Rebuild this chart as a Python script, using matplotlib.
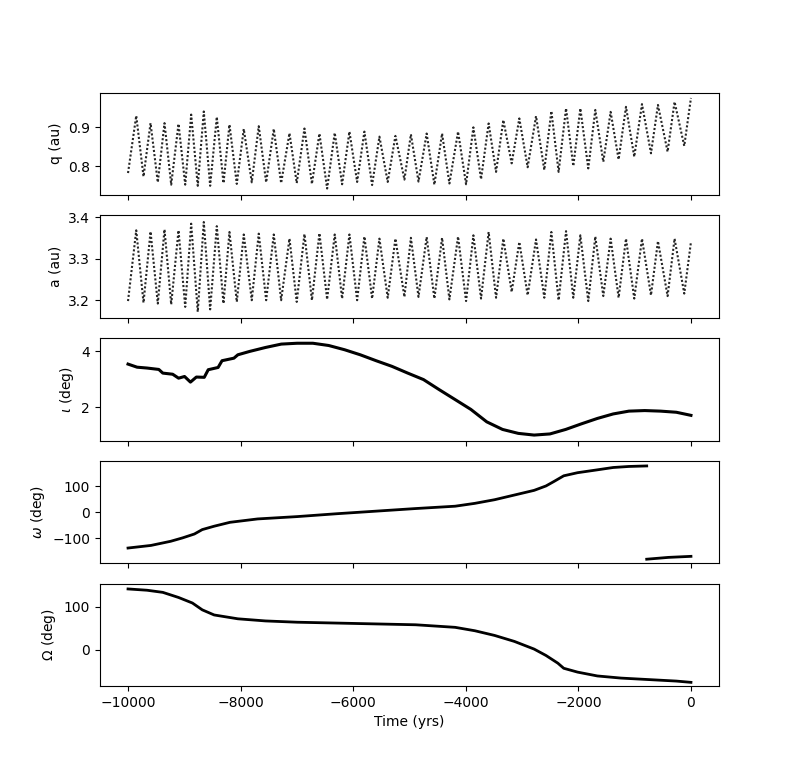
import matplotlib
matplotlib.use("Agg")
import matplotlib.pyplot as plt
import numpy as np

# ---- q and a: times of the start, alternating peaks / troughs, and end ----
t_ext = [-10000,
         -9854, -9725, -9600, -9471, -9352, -9233, -9103, -8984, -8878, -8761,
         -8654, -8541, -8423, -8304, -8198, -8068, -7944, -7802, -7678, -7546,
         -7411, -7280, -7132, -7003, -6866, -6733, -6600, -6463, -6328, -6197,
         -6067, -5930, -5801, -5664, -5534, -5387, -5250, -5090, -4975, -4840,
         -4695, -4558, -4421, -4291, -4137, -3995, -3865, -3729, -3594, -3462,
         -3333, -3185, -3049, -2901, -2752, -2605, -2480, -2351, -2219, -2090,
         -1965, -1824, -1699, -1557, -1427, -1285, -1154, -1007, -870, -710,
         -586, -415, -291, -119,
         0]

q_ext = [0.782,
         0.930, 0.773, 0.911, 0.758, 0.911, 0.752, 0.909, 0.752, 0.933, 0.749,
         0.941, 0.749, 0.927, 0.756, 0.907, 0.754, 0.896, 0.758, 0.903, 0.758,
         0.896, 0.756, 0.885, 0.756, 0.897, 0.754, 0.884, 0.742, 0.886, 0.753,
         0.889, 0.759, 0.889, 0.751, 0.876, 0.759, 0.878, 0.765, 0.882, 0.760,
         0.884, 0.752, 0.884, 0.755, 0.889, 0.753, 0.900, 0.766, 0.910, 0.785,
         0.919, 0.807, 0.923, 0.797, 0.929, 0.790, 0.942, 0.785, 0.949, 0.800,
         0.949, 0.794, 0.945, 0.811, 0.940, 0.817, 0.953, 0.824, 0.960, 0.833,
         0.958, 0.837, 0.966, 0.852,
         0.976]

a_ext = [3.198,
         3.368, 3.194, 3.365, 3.192, 3.370, 3.190, 3.368, 3.184, 3.384, 3.172,
         3.388, 3.178, 3.378, 3.192, 3.364, 3.196, 3.358, 3.200, 3.360, 3.200,
         3.358, 3.200, 3.348, 3.196, 3.359, 3.200, 3.361, 3.202, 3.358, 3.204,
         3.358, 3.200, 3.353, 3.204, 3.348, 3.206, 3.348, 3.208, 3.350, 3.208,
         3.352, 3.204, 3.350, 3.202, 3.353, 3.198, 3.356, 3.204, 3.364, 3.206,
         3.348, 3.220, 3.340, 3.212, 3.346, 3.206, 3.364, 3.200, 3.366, 3.206,
         3.356, 3.198, 3.353, 3.210, 3.348, 3.206, 3.348, 3.204, 3.348, 3.212,
         3.342, 3.210, 3.348, 3.216,
         3.340]

# ---- inclination ----
inc_t = [-10000, -9839, -9663, -9453, -9382, -9207, -9102, -8996, -8891, -8786,
         -8646, -8575, -8400, -8330, -8119, -8049, -7839, -7558, -7277, -6996,
         -6716, -6435, -6154, -5874, -5593, -5312, -5031, -4751, -4470, -4189,
         -3909, -3628, -3347, -3067, -2786, -2505, -2225, -1944, -1663, -1382,
         -1102, -821, -540, -260, 0]
inc_v = [3.54, 3.43, 3.40, 3.35, 3.22, 3.18, 3.04, 3.10, 2.90, 3.08,
         3.07, 3.34, 3.42, 3.66, 3.75, 3.87, 3.99, 4.13, 4.25, 4.28,
         4.28, 4.20, 4.05, 3.87, 3.66, 3.46, 3.22, 2.99, 2.63, 2.28,
         1.93, 1.49, 1.22, 1.08, 1.02, 1.06, 1.22, 1.42, 1.61, 1.77,
         1.87, 1.89, 1.87, 1.83, 1.72]

# ---- argument of perihelion (wraps at +/-180) ----
om1_t = [-10000, -9593, -9242, -9032, -8821, -8681, -8470, -8189, -7698, -6996,
         -6295, -5593, -4891, -4189, -3839, -3488, -3137, -2786, -2575, -2435,
         -2260, -2014, -1663, -1382, -1102, -786]
om1_v = [-137, -127, -111, -98, -83, -66, -53, -38, -25, -16,
         -5, 5, 15, 24, 35, 49, 67, 85, 102, 119,
         141, 153, 164, 173, 177, 179]
om2_t = [-786, -400, 0]
om2_v = [-180, -173, -169]

# ---- longitude of ascending node ----
node_t = [-10000, -9663, -9382, -9102, -8856, -8681, -8470, -8049, -7558, -6996,
          -6295, -5593, -4891, -4189, -3839, -3488, -3137, -2786, -2575, -2365,
          -2260, -2014, -1663, -1242, -681, -260, 0]
node_v = [142, 139, 134, 122, 109, 93, 81, 72, 67, 64,
          62, 60, 58, 52, 44, 33, 19, 1, -14, -32,
          -44, -53, -62, -67, -71, -74, -77]

fig, axes = plt.subplots(5, 1, sharex=True, figsize=(7.99, 7.71), dpi=100)

dot = dict(color='black', linestyle=(0, (1, 1.0)), linewidth=1.5, alpha=0.85)
axes[0].plot(t_ext, q_ext, **dot)
axes[0].set_ylabel('q (au)')
axes[0].set_ylim(0.7256, 0.990)

axes[1].plot(t_ext, a_ext, **dot)
axes[1].set_ylabel('a (au)')
axes[1].set_ylim(3.158, 3.404)

axes[2].plot(inc_t, inc_v, color='black', linewidth=2.2)
axes[2].set_ylabel(r'$\iota$ (deg)')
axes[2].set_ylim(0.826, 4.46)

axes[3].plot(om1_t, om1_v, color='black', linewidth=2.0)
axes[3].plot(om2_t, om2_v, color='black', linewidth=2.0)
axes[3].set_ylabel(r'$\omega$ (deg)')
axes[3].set_ylim(-196, 198)

axes[4].plot(node_t, node_v, color='black', linewidth=2.0)
axes[4].set_ylabel(r'$\Omega$ (deg)')
axes[4].set_ylim(-86, 154)
axes[4].set_xlabel('Time (yrs)')

fig.savefig('out.png', dpi=100)
